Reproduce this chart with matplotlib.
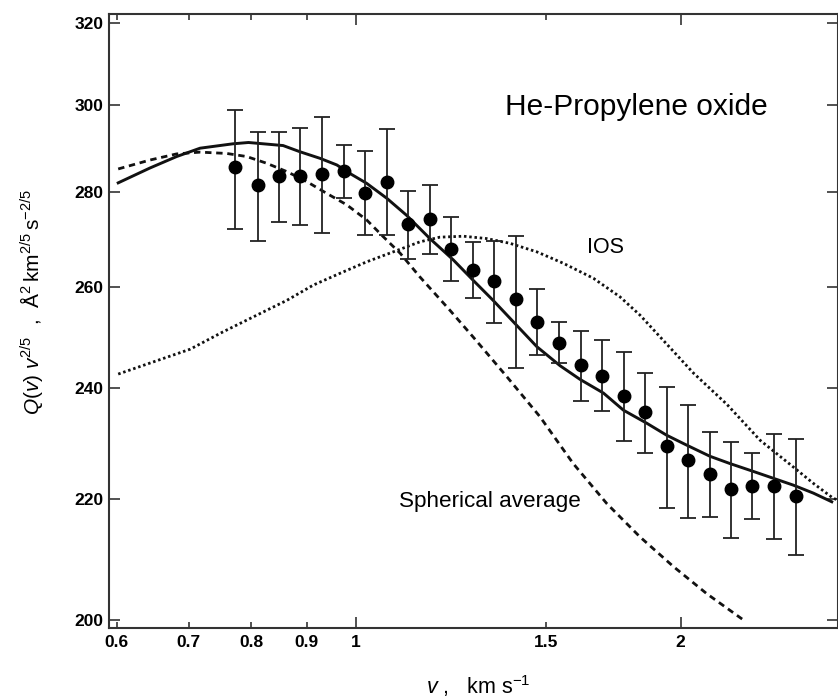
import matplotlib
matplotlib.use('Agg')
import matplotlib.pyplot as plt
from matplotlib.ticker import FixedLocator, NullLocator, FixedFormatter
import numpy as np

plt.rcParams['font.family'] = ['Liberation Sans', 'DejaVu Sans']
plt.rcParams['mathtext.fontset'] = 'custom'
plt.rcParams['mathtext.rm'] = 'Liberation Sans'
plt.rcParams['mathtext.it'] = 'Liberation Sans:italic'
plt.rcParams['mathtext.bf'] = 'Liberation Sans:bold'

# ---- data ----
v_data = [0.772, 0.812, 0.849, 0.888, 0.931, 0.974, 1.019, 1.068, 1.118, 1.171,
          1.225, 1.284, 1.343, 1.408, 1.473, 1.543, 1.617, 1.692, 1.771, 1.855,
          1.941, 2.033, 2.128, 2.227, 2.331, 2.441, 2.557]
q_data = [285.6, 281.6, 283.6, 283.6, 284.1, 284.7, 279.9, 282.4, 273.1, 274.2,
          267.9, 263.5, 261.2, 257.4, 252.9, 248.8, 244.4, 242.4, 238.6, 235.5,
          229.3, 226.8, 224.3, 221.7, 222.3, 222.3, 220.5]
q_upper = [298.8, 293.5, 293.5, 294.5, 297.0, 290.6, 289.2, 294.2, 280.4, 281.6,
           274.7, 269.3, 269.5, 270.5, 259.5, 252.9, 251.0, 249.2, 246.9, 243.0,
           240.2, 236.9, 231.8, 230.0, 228.1, 231.6, 230.6]
q_lower = [272.0, 269.5, 273.6, 272.9, 271.2, 278.8, 270.7, 270.7, 265.6, 266.7,
           261.2, 257.6, 252.7, 243.9, 246.4, 244.8, 237.6, 235.8, 230.2, 228.0,
           218.4, 216.7, 216.9, 213.3, 216.5, 213.1, 210.5]

# full potential calculation (solid)
v_fit = [0.602, 0.644, 0.682, 0.717, 0.769, 0.795, 0.856, 0.887, 0.926, 0.960,
         0.987, 1.023, 1.068, 1.114, 1.171, 1.231, 1.284, 1.340, 1.409, 1.471,
         1.546, 1.613, 1.696, 1.770, 1.860, 1.941, 2.026, 2.129, 2.222, 2.336,
         2.437, 2.543, 2.655, 2.761]
q_fit = [282.1, 285.4, 288.0, 289.9, 290.9, 291.2, 290.5, 289.1, 287.6, 286.1,
         284.2, 282.0, 278.7, 275.0, 270.0, 265.5, 261.3, 257.2, 252.2, 248.0,
         244.3, 241.7, 239.1, 235.9, 233.5, 231.3, 229.5, 227.5, 226.2, 224.8,
         223.6, 222.4, 221.0, 219.5]

# spherical average (dashed)
v_sph = [0.602, 0.644, 0.682, 0.717, 0.759, 0.792, 0.826, 0.863, 0.900, 0.939,
         0.980, 1.023, 1.060, 1.099, 1.146, 1.222, 1.284, 1.380, 1.481, 1.590,
         1.708, 1.834, 1.969, 2.114, 2.287]
q_sph = [285.2, 287.2, 288.6, 289.0, 288.7, 288.0, 286.5, 284.6, 282.4, 279.8,
         277.3, 274.0, 270.4, 266.9, 262.0, 255.2, 249.9, 242.2, 234.7, 226.2,
         219.2, 213.5, 208.6, 204.2, 200.0]

# IOS (dotted)
v_ios = [0.602, 0.644, 0.702, 0.753, 0.809, 0.863, 0.913, 0.966, 1.023, 1.083,
         1.146, 1.196, 1.258, 1.322, 1.389, 1.471, 1.557, 1.660, 1.757, 1.834,
         1.914, 2.055, 2.207, 2.369, 2.543, 2.655, 2.770, 2.798]
q_ios = [242.7, 244.8, 247.5, 250.9, 254.2, 257.2, 260.3, 262.7, 265.1, 267.2,
         269.3, 270.3, 270.5, 270.0, 269.0, 267.2, 264.8, 261.7, 257.9, 254.2,
         249.9, 242.9, 237.0, 230.4, 225.6, 222.7, 220.1, 219.8]

x_major = [1, 2]
x_major_labels = ['1', '2']
x_minor = [0.6, 0.7, 0.8, 0.9, 1.5]
x_minor_labels = ['0.6', '0.7', '0.8', '0.9', '1.5']
y_ticks = [200, 220, 240, 260, 280, 300, 320]
y_tick_labels = ['200', '220', '240', '260', '280', '300', '320']

# ---- figure ----
W, H = 838, 700
fig = plt.figure(figsize=(W / 100, H / 100), dpi=100)
ax = fig.add_axes([109 / W, (H - 627.7) / H, (W - 109) / W, (627.7 - 14.3) / H])
ax.set_xscale('log')
ax.set_yscale('log')
ax.set_xlim(0.5903, 2.798)
ax.set_ylim(198.8, 322.1)

ink = '#111111'
ax.plot(v_fit, q_fit, '-', color=ink, lw=2.1, zorder=3)
ax.plot(v_sph, q_sph, color=ink, lw=2.0, linestyle=(0, (2.3, 1.7)), zorder=3)
ax.plot(v_ios, q_ios, color=ink, lw=2.0, linestyle=(0, (0.9, 1.0)), zorder=3)

qd = np.array(q_data)
yerr = [qd - np.array(q_lower), np.array(q_upper) - qd]
ax.errorbar(v_data, q_data, yerr=yerr, fmt='o', color='black', ms=9,
            ecolor='#222222', elinewidth=1.3, capsize=5.5, capthick=1.3, zorder=4)

# ticks
ax.xaxis.set_major_locator(FixedLocator(x_major))
ax.xaxis.set_major_formatter(FixedFormatter(x_major_labels))
ax.xaxis.set_minor_locator(FixedLocator(x_minor))
ax.xaxis.set_minor_formatter(FixedFormatter(x_minor_labels))
ax.yaxis.set_major_locator(FixedLocator(y_ticks))
ax.yaxis.set_major_formatter(FixedFormatter(y_tick_labels))
ax.yaxis.set_minor_locator(NullLocator())

spine_c = '#333333'
for s in ax.spines.values():
    s.set_color(spine_c)
    s.set_linewidth(1.5)

ax.tick_params(axis='both', which='both', direction='in', top=True, right=True,
               color=spine_c, width=1.2, labelsize=12.5)
ax.tick_params(axis='x', which='major', length=8, pad=5)
ax.tick_params(axis='x', which='minor', length=4, pad=5)
ax.tick_params(axis='y', which='major', length=8, pad=4)
for lab in ax.get_xticklabels(which='both') + ax.get_yticklabels():
    lab.set_fontweight('bold')

# annotations
ax.text(1.818, 299.4, 'He-Propylene oxide', ha='center', va='center', fontsize=21.5)
ax.text(1.703, 268.2, 'IOS', ha='center', va='center', fontsize=15.5)
ax.text(1.331, 219.5, 'Spherical average', ha='center', va='center', fontsize=16.2)

# axis labels
fig.text(31.5 / W, 1 - 302.5 / H,
         r'$Q(v)\ v^{2/5}$  ,  $\mathrm{\AA}^{2}\,\mathrm{km}^{2/5}\,\mathrm{s}^{-2/5}$',
         rotation=90, ha='center', va='center', fontsize=15)
fig.text(478 / W, 1 - 686 / H, r'$v$ ,   km s$^{-1}$',
         ha='center', va='center', fontsize=15.5)

fig.savefig('out.png', dpi=100)
